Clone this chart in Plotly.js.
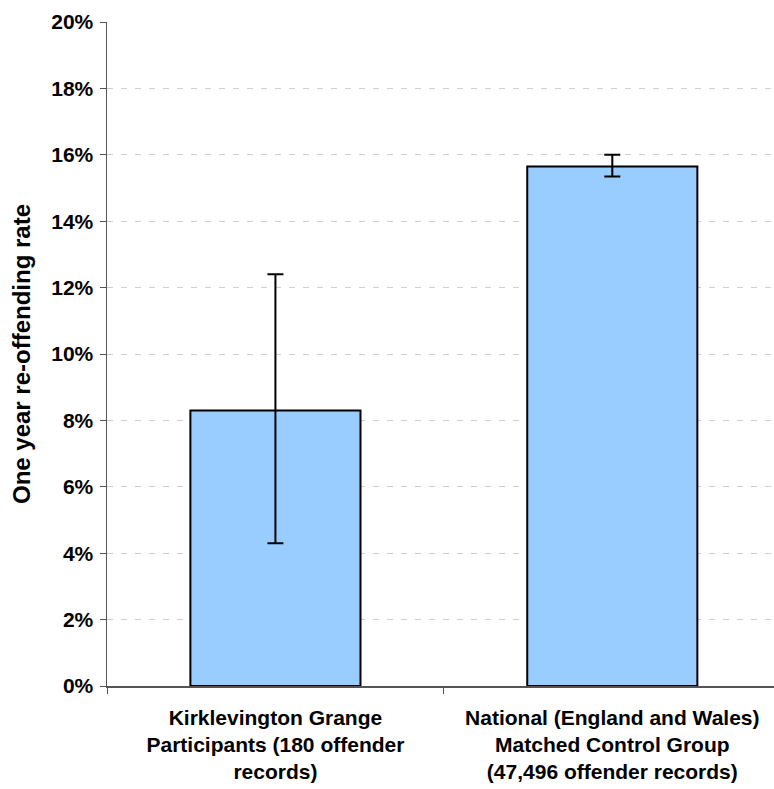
<!DOCTYPE html>
<html>
<head>
<meta charset="utf-8">
<script src="https://cdn.plot.ly/plotly-3.0.1.min.js"></script>
<style>html,body{margin:0;padding:0;background:#fff;}#chart{width:774px;height:789px;}</style>
</head>
<body>
<div id="chart"></div>
<script>
const categories = [
  "Kirklevington Grange<br>Participants (180 offender<br>records)",
  "National (England and Wales)<br>Matched Control Group<br>(47,496 offender records)"
];
const rates = [8.3, 15.65];
const errorPlus = [4.1, 0.35];
const errorMinus = [4.0, 0.3];
const yTickValues = [0, 2, 4, 6, 8, 10, 12, 14, 16, 18, 20];

const trace = {
  type: "bar",
  x: categories,
  y: rates,
  marker: {color: "#99CCFF", line: {color: "#000000", width: 2}},
  error_y: {type: "data", symmetric: false, array: errorPlus, arrayminus: errorMinus,
            color: "#000000", thickness: 2, width: 8},
  hoverinfo: "none"
};

const font = {family: "Liberation Sans, Arial, sans-serif", color: "#000000"};

const layout = {
  width: 774, height: 789,
  margin: {l: 107, r: 0, t: 22, b: 103},
  paper_bgcolor: "#ffffff", plot_bgcolor: "#ffffff",
  showlegend: false,
  bargap: 0.495,
  font: font,
  xaxis: {
    type: "category",
    range: [-0.5, 1.48],
    tickson: "boundaries",
    ticks: "outside", ticklen: 6, tickcolor: "#555555", tickwidth: 1,
    ticklabelstandoff: 12,
    showline: true, linecolor: "#555555", linewidth: 1.5,
    showgrid: false,
    tickfont: {family: font.family, size: 21, color: "#000000", weight: "bold"},
    fixedrange: true
  },
  yaxis: {
    range: [0, 20],
    tickvals: yTickValues,
    ticktext: yTickValues.map(v => v + "%"),
    ticks: "outside", ticklen: 6, tickcolor: "#555555", tickwidth: 1,
    ticklabelstandoff: 2,
    showline: true, linecolor: "#555555", linewidth: 1.5,
    showgrid: true, gridcolor: "#cfcfcf", gridwidth: 1, griddash: "6px,8px",
    zeroline: false,
    tickfont: {family: font.family, size: 21, color: "#000000", weight: "bold"},
    title: {text: "One year re-offending rate", standoff: 14,
            font: {family: font.family, size: 24, color: "#000000", weight: "bold"}},
    fixedrange: true
  }
};

Plotly.newPlot("chart", [trace], layout, {displayModeBar: false, staticPlot: true});
</script>
</body>
</html>
